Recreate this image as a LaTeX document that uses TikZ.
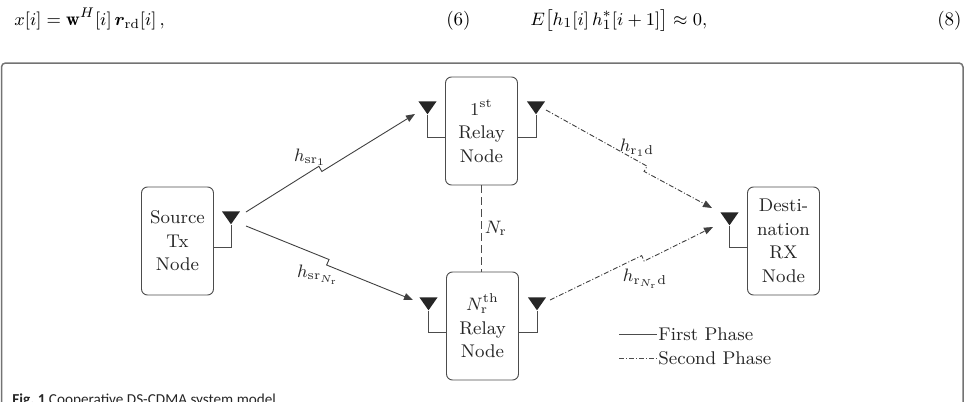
\documentclass[tikz,border=0pt]{standalone}
\usepackage{amsmath,bm}
\usepackage{fontspec}
\newfontfamily\capfont{Carlito}
\usetikzlibrary{arrows.meta,calc,shapes.geometric,positioning}

\tikzset{
  box/.style={draw=black!70, line width=0.45pt, rounded corners=3pt, minimum width=36pt, minimum height=54pt,
    align=center, text=black!85, font=\fontsize{9.2}{11.8}\selectfont},
  ant/.style={isosceles triangle, isosceles triangle apex angle=70, shape border rotate=-90,
    fill=black!85, inner sep=0pt, minimum height=6.5pt, anchor=apex},
  feed/.style={draw=black!70, line width=0.45pt},
  first/.style={draw=black!75, line width=0.45pt, -{Triangle[length=4.5pt,width=3.5pt]}},
  second/.style={first, dash pattern=on 2.5pt off 1pt on 0.5pt off 1pt},
  lbl/.style={text=black!85, font=\fontsize{9.2}{11}\selectfont, inner sep=0pt},
  eqn/.style={inner sep=0pt, font=\fontsize{9.5}{11}\selectfont},
}

\begin{document}
\begin{tikzpicture}[x=0.5pt, y=-0.5pt]
\useasboundingbox (0,0) rectangle (966,402);
\clip (0,0) rectangle (966,402);

% text above the figure
\node[eqn, anchor=base west] (eqa) at (14,25) {$x[i] = \mathbf{w}^{H}[i]\,\bm{r}_{\mathrm{rd}}[i]\,,$};
\node[eqn, anchor=base east] (eqa-no) at (471,25) {(6)};
\node[eqn, anchor=base west] (eqb) at (530,25) {$E\bigl[h_1[i]\,h_1^{*}[i+1]\bigr] \approx 0,$};
\node[eqn, anchor=base east] (eqb-no) at (962,25) {(8)};

% frame and caption
\draw[black!55, line width=0.75pt, rounded corners=2pt] (1.5,63) rectangle (963,440);
\node[anchor=base west, inner sep=0pt, text=black!85, font=\capfont\fontsize{7.6}{9}\selectfont] (cap) at (12,404)
  {\textbf{Fig.~1} Cooperative DS-CDMA system model};

% nodes
\node[box] (src) at (177.5,241) {Source\\Tx\\Node};
\node[box] (rel1) at (481.5,131) {$1^{\mathrm{st}}$\\Relay\\Node};
\node[box] (relN) at (482.5,326) {$N_{\mathrm{r}}^{\mathrm{th}}$\\Relay\\Node};
\node[box] (dst) at (783.5,241) {Desti-\\nation\\RX\\Node};

% antennas
\node[ant] (src-ant) at (231,225) {};
\node[ant] (rel1-rx) at (427.5,115) {};
\node[ant] (rel1-tx) at (536,115) {};
\node[ant] (relN-rx) at (428.5,311) {};
\node[ant] (relN-tx) at (537,311) {};
\node[ant] (dst-ant) at (729.5,226) {};
\draw[feed] (src-ant.apex) |- ($(src.east)+(0,6)$);
\draw[feed] (rel1-rx.apex) |- ($(rel1.west)+(0,6)$);
\draw[feed] (rel1-tx.apex) |- ($(rel1.east)+(0,6)$);
\draw[feed] (relN-rx.apex) |- ($(relN.west)+(0,6)$);
\draw[feed] (relN-tx.apex) |- ($(relN.east)+(0,6)$);
\draw[feed] (dst-ant.apex) |- ($(dst.west)+(0,6)$);

% link ends
\coordinate (s1) at (246,212); \coordinate (t1) at (415,114);
\coordinate (s2) at (246,226); \coordinate (t2) at (413,300);
\coordinate (s3) at (546,110); \coordinate (t3) at (712,208);
\coordinate (s4) at (550,300); \coordinate (t4) at (713,227);

% first phase
\draw[first] (s1) -- ($(s1)!0.44!(t1)!1.5pt!90:(t1)$) -- ($(s1)!0.44!(t1)!-1.5pt!90:(t1)$) -- (t1);
\draw[first] (s2) -- ($(s2)!0.49!(t2)!1.5pt!90:(t2)$) -- ($(s2)!0.49!(t2)!-1.5pt!90:(t2)$) -- (t2);
\node[lbl] (h1) at (310,157) {$h_{\mathrm{sr}_1}$};
\node[lbl] (hN) at (318,275) {$h_{\mathrm{sr}_{N_{\mathrm{r}}}}$};

% second phase
\draw[second] (s3) -- ($(s3)!0.6!(t3)!1.5pt!90:(t3)$) -- ($(s3)!0.6!(t3)!-1.5pt!90:(t3)$) -- (t3);
\draw[second] (s4) -- ($(s4)!0.57!(t4)!1.5pt!90:(t4)$) -- ($(s4)!0.57!(t4)!-1.5pt!90:(t4)$) -- (t4);
\node[lbl] (g1) at (637,148) {$h_{\mathrm{r}_1\mathrm{d}}$};
\node[lbl] (gN) at (645,279) {$h_{\mathrm{r}_{N_{\mathrm{r}}}\mathrm{d}}$};

% relays in between
\draw[feed, dash pattern=on 4pt off 2pt] (rel1.south) -- node[lbl, right=1.5pt] (nr) {$N_{\mathrm{r}}$} (rel1.south |- relN.north);

% legend
\coordinate (lg1) at (619,334); \coordinate (lg2) at (619,358);
\draw[feed] (lg1) -- ++(38,0) node[lbl, right=0.5pt] (lg1-txt) {First Phase};
\draw[feed, dash pattern=on 2.5pt off 1pt on 0.5pt off 1pt] (lg2) -- ++(38,0) node[lbl, right=0.5pt] (lg2-txt) {Second Phase};
\end{tikzpicture}
\end{document}
